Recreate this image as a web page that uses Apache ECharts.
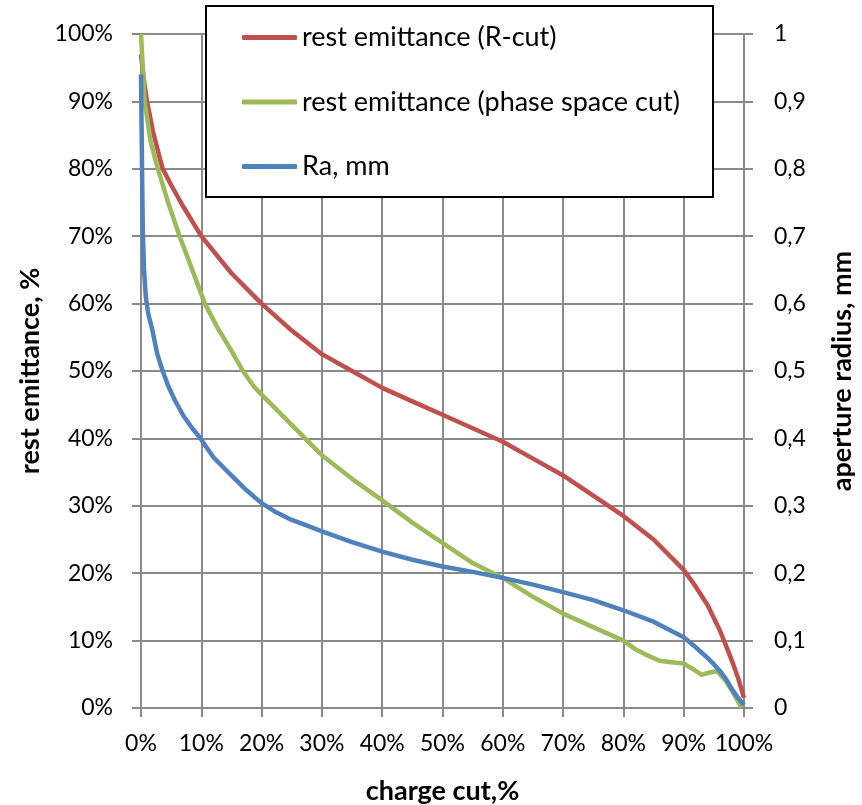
<!DOCTYPE html>
<html>
<head>
	<meta charset="utf-8">
	<title>rest emittance vs charge cut</title>
	<script src="https://cdn.jsdelivr.net/npm/echarts@6/dist/echarts.min.js"></script>
	<style>
		body { margin:0; background:#fff; }
		#chart { width:862px; height:805px; }
	</style>
</head>
<body>
<div id="chart"></div>
<script type="text/javascript">
// charge cut, % (x) and rest emittance, % (y)
var redX = [0, 0.5, 1, 2, 3, 3.6, 5, 7, 10, 15, 20, 25, 30, 35, 40, 45, 50, 55, 60, 65, 70, 75, 80, 85, 90, 92, 94, 96, 97, 98, 99, 100];
var redY = [97, 93, 90, 85.5, 82, 80, 77.6, 74.4, 70, 64.5, 60, 56, 52.5, 50, 47.5, 45.5, 43.5, 41.5, 39.5, 37, 34.5, 31.5, 28.5, 25, 20.5, 18, 15.2, 11.5, 9.3, 7, 4.5, 1.5];

var greenX = [0, 0.6, 1.6, 2.8, 4.5, 6.4, 8.5, 10.6, 12.7, 15, 16.9, 18.8, 20, 25, 28, 30, 35, 40, 45, 50, 55, 60, 65, 70, 75, 80, 82, 84, 86, 88, 90, 92, 93, 94, 95.5, 97, 98.5, 99.6];
var greenY = [100, 90, 84, 80, 75, 70, 65, 60, 56.4, 53, 50, 47.6, 46.5, 42, 39.3, 37.5, 34, 30.8, 27.5, 24.5, 21.5, 19.3, 16.5, 14, 12, 10, 8.7, 7.8, 7, 6.8, 6.6, 5.5, 4.9, 5.2, 5.5, 4, 1.8, 0];

// aperture radius, mm (right axis)
var blueX = [0, 0.1, 0.2, 0.3, 0.5, 0.8, 1.2, 1.9, 2.7, 3.6, 4.5, 5.6, 7, 8.5, 9.7, 12, 15, 17.5, 20, 22.5, 25, 28, 30, 35, 40, 45, 50, 55, 60, 65, 70, 75, 80, 85, 90, 92, 93, 94, 95, 96, 97, 98, 99, 100];
var blueY = [0.94, 0.86, 0.78, 0.71, 0.65, 0.61, 0.585, 0.56, 0.525, 0.50, 0.478, 0.457, 0.434, 0.415, 0.402, 0.372, 0.345, 0.323, 0.304, 0.29, 0.279, 0.269, 0.262, 0.246, 0.232, 0.22, 0.21, 0.202, 0.193, 0.183, 0.172, 0.16, 0.145, 0.128, 0.105, 0.09, 0.082, 0.074, 0.065, 0.055, 0.043, 0.028, 0.015, 0.005];

var seriesNames = ['rest emittance (R-cut)', 'rest emittance (phase space cut)', 'Ra, mm'];

function zip(xs, ys) {
	return xs.map(function (x, i) { return [x, ys[i]]; });
}

var font = 'Lato';
var gridGray = '#8a8a8a';

var myChart = echarts.init(document.getElementById('chart'));
myChart.setOption({
	animation: false,
	textStyle: { fontFamily: font },
	grid: { left: 141, right: 118, top: 34, bottom: 97, outerBoundsMode: 'none' },
	graphic: [{
		type: 'rect',
		z: 3,
		shape: { x: 206, y: 6, width: 507, height: 191 },
		style: { fill: '#fff', stroke: '#000', lineWidth: 2 }
	}],
	legend: {
		z: 4,
		orient: 'vertical',
		left: 237,
		top: 19,
		icon: 'roundRect',
		itemWidth: 55,
		itemHeight: 5,
		itemGap: 37.5,
		textStyle: { fontFamily: font, fontSize: 27, lineHeight: 27, color: '#000' },
		data: seriesNames
	},
	xAxis: {
		type: 'value',
		min: 0, max: 100, interval: 10,
		name: 'charge cut,%',
		nameLocation: 'middle',
		nameGap: 70,
		nameTextStyle: { fontFamily: font, fontSize: 27, fontWeight: 'bold', color: '#000', verticalAlign: 'top' },
		axisLine: { lineStyle: { color: gridGray, width: 2 } },
		axisTick: { show: true, length: 9, lineStyle: { color: gridGray, width: 2 } },
		axisLabel: { formatter: '{value}%', fontSize: 23, color: '#000', margin: 24 },
		splitLine: { show: true, lineStyle: { color: gridGray, width: 2 } }
	},
	yAxis: [{
		type: 'value',
		min: 0, max: 100, interval: 10,
		name: 'rest emittance, %',
		nameLocation: 'middle',
		nameGap: 92,
		nameTextStyle: { fontFamily: font, fontSize: 27, fontWeight: 'bold', color: '#000' },
		axisLine: { show: true, lineStyle: { color: gridGray, width: 2 } },
		axisTick: { show: true, length: 9, lineStyle: { color: gridGray, width: 2 } },
		axisLabel: { formatter: '{value}%', fontSize: 23, color: '#000', margin: 28 },
		splitLine: { show: true, lineStyle: { color: gridGray, width: 2 } }
	}, {
		type: 'value',
		position: 'right',
		min: 0, max: 1, interval: 0.1,
		name: 'aperture radius, mm',
		nameLocation: 'middle',
		nameGap: 85,
		nameTextStyle: { fontFamily: font, fontSize: 27, fontWeight: 'bold', color: '#000' },
		axisLine: { show: true, lineStyle: { color: gridGray, width: 2 } },
		axisTick: { show: true, length: 9, lineStyle: { color: gridGray, width: 2 } },
		axisLabel: {
			fontSize: 23, color: '#000', margin: 30,
			formatter: function (v) {
				if (v === 0 || v === 1) return String(v);
				return v.toFixed(1).replace('.', ',');
			}
		},
		splitLine: { show: false }
	}],
	series: [{
		name: seriesNames[0],
		type: 'line',
		yAxisIndex: 0,
		symbol: 'none',
		color: '#C0504D',
		lineStyle: { width: 4.5 },
		data: zip(redX, redY)
	}, {
		name: seriesNames[1],
		type: 'line',
		yAxisIndex: 0,
		symbol: 'none',
		color: '#9BBB59',
		lineStyle: { width: 4.5 },
		data: zip(greenX, greenY)
	}, {
		name: seriesNames[2],
		type: 'line',
		yAxisIndex: 1,
		symbol: 'none',
		color: '#4F81BD',
		lineStyle: { width: 4.5 },
		data: zip(blueX, blueY)
	}]
});
</script>
</body>
</html>
